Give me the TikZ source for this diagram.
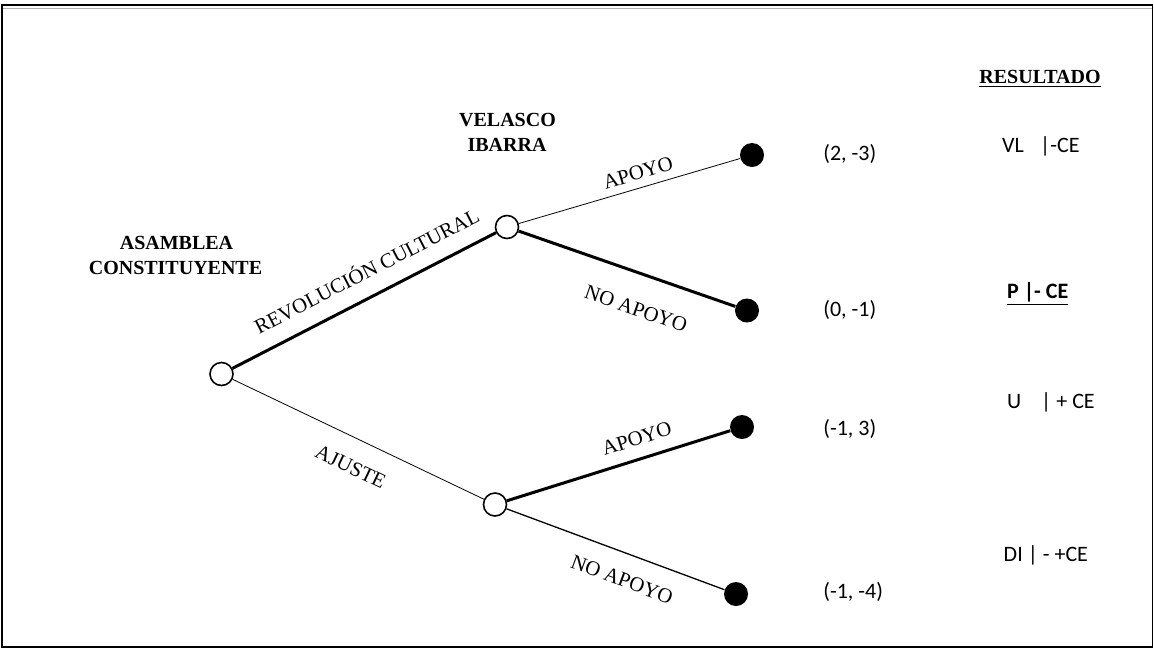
\documentclass[tikz,border=0pt]{standalone}
\usepackage{fontspec}
\setmainfont{Liberation Serif}
\newfontfamily\calfont{Carlito}
\begin{document}
\begin{tikzpicture}[x=0.5pt,y=-0.5pt,
  open/.style={circle,draw,fill=white,line width=0.8pt,minimum size=11.5pt,inner sep=0pt},
  term/.style={circle,fill=black,minimum size=12pt,inner sep=0pt},
  heavy/.style={line width=1.5pt},
  light/.style={line width=0.4pt},
  medium/.style={line width=0.65pt},
  lab/.style={font=\fontsize{10.4}{12}\selectfont, sloped, inner sep=0pt},
  player/.style={font=\fontsize{10}{12}\selectfont\bfseries, anchor=base, inner sep=0pt},
  pay/.style={font=\calfont\fontsize{11}{13}\selectfont, anchor=base west, inner sep=0pt},
]
\useasboundingbox (0,0) rectangle (1154,649);
% frame
\draw[line width=1pt] (1152.5,5) -- (2,5) -- (2,647) -- (1152.5,647);
\draw[line width=0.5pt] (1152.5,5) -- (1152.5,647);
\draw[gray!60, line width=0.5pt] (3,8) -- (1152,8);

% decision nodes
\node[open] (r) at (221.5,374) {};
\node[open] (u) at (507,227) {};
\node[open] (l) at (495,504.5) {};
\node[term] (t1) at (752,155) {};
\node[term] (t2) at (747,310.5) {};
\node[term] (t3) at (742,427) {};
\node[term] (t4) at (736,594) {};

% branches
\draw[heavy] (r) -- node[lab, pos=0.553, above=8pt] {REVOLUCIÓN CULTURAL} (u);
\draw[light] (u) -- node[lab, pos=0.558, above=3.85pt] {APOYO} (t1);
\draw[heavy] (u) -- node[lab, pos=0.595, below=13.2pt] {NO APOYO} (t2);
\draw[light] (r) -- node[lab, pos=0.518, below=10.3pt] {AJUSTE} (l);
\draw[heavy] (l) -- node[lab, pos=0.61, above=6.1pt] {APOYO} (t3);
\draw[medium] (l) -- node[lab, pos=0.572, below=9.3pt] {NO APOYO} (t4);

% players
\node[player] (vi1) at (507.5,126.7) {VELASCO};
\node[player] (vi2) at (507,151.7) {IBARRA};
\node[player] (ac1) at (176.5,249.3) {ASAMBLEA};
\node[player] (ac2) at (175.5,274.3) {CONSTITUYENTE};
\node[player] (res) at (1040,83) {\underline{RESULTADO}};

% payoffs
\node[pay] (p1) at (823,160) {(2, -3)};
\node[pay] (p2) at (823,316.7) {(0, -1)};
\node[pay] (p3) at (823,435) {(-1, 3)};
\node[pay] (p4) at (823,598) {(-1, -4)};

% results
\node[pay] (o1) at (1001.7,152.7) {VL\hspace{8.2pt}|-CE};
\node[pay] (o2) at (1006.7,298.3) {\bfseries\underline{P |- CE}};
\node[pay] (o3) at (1006.7,408.3) {U\hspace{10pt}| + CE};
\node[pay] (o4) at (1003.3,561.7) {DI | - +CE};
\end{tikzpicture}
\end{document}
